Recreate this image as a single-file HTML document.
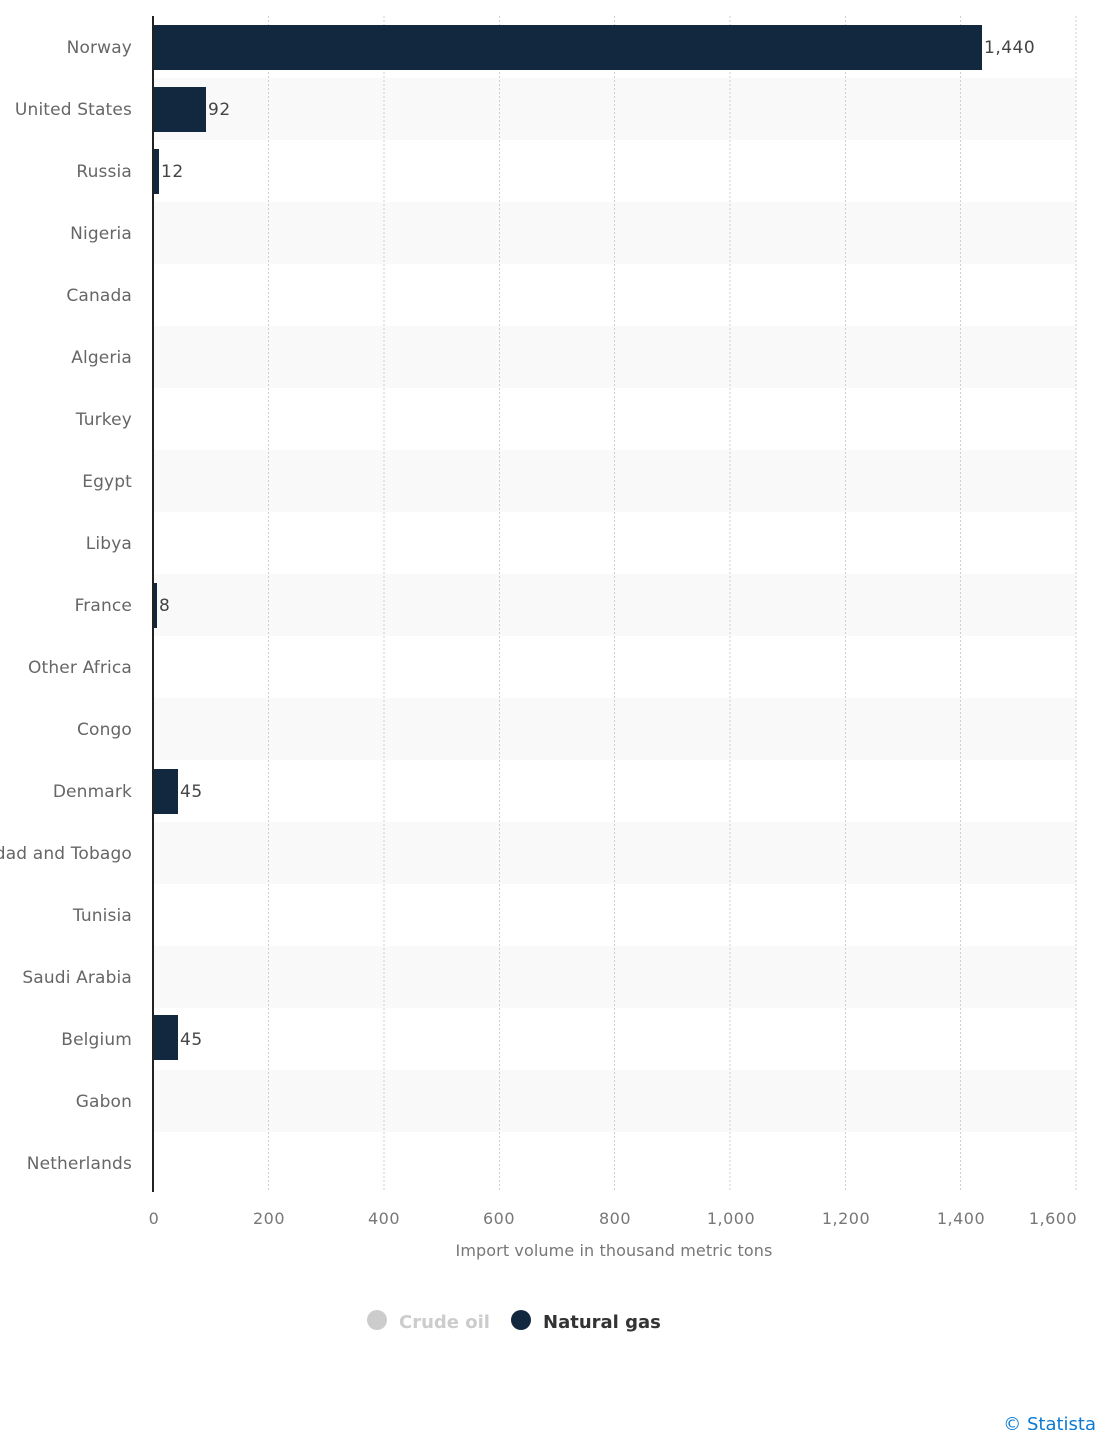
<!DOCTYPE html>
<html><head><meta charset="utf-8"><style>
html,body{margin:0;padding:0;background:#fff;}
svg{display:block;font-family:"DejaVu Sans","Liberation Sans",sans-serif;}
</style></head><body>
<svg width="1100" height="1430" viewBox="0 0 1100 1430" xmlns="http://www.w3.org/2000/svg">
<g fill="#f9f9f9">
<rect x="154" y="78" width="922" height="62"/>
<rect x="154" y="202" width="922" height="62"/>
<rect x="154" y="326" width="922" height="62"/>
<rect x="154" y="450" width="922" height="62"/>
<rect x="154" y="574" width="922" height="62"/>
<rect x="154" y="698" width="922" height="62"/>
<rect x="154" y="822" width="922" height="62"/>
<rect x="154" y="946" width="922" height="62"/>
<rect x="154" y="1070" width="922" height="62"/>
</g>
<g stroke="#cfcfcf" stroke-width="1" stroke-dasharray="2,2">
<line x1="268.5" y1="16" x2="268.5" y2="1192"/>
<line x1="384" y1="16" x2="384" y2="1192"/>
<line x1="499.5" y1="16" x2="499.5" y2="1192"/>
<line x1="614.5" y1="16" x2="614.5" y2="1192"/>
<line x1="730" y1="16" x2="730" y2="1192"/>
<line x1="845.5" y1="16" x2="845.5" y2="1192"/>
<line x1="960.5" y1="16" x2="960.5" y2="1192"/>
<line x1="1076" y1="16" x2="1076" y2="1192"/>
</g>
<g fill="#12283f">
<rect x="153" y="25" width="829" height="45"/>
<rect x="153" y="87" width="53" height="45"/>
<rect x="153" y="149" width="6" height="45"/>
<rect x="153" y="583" width="4" height="45"/>
<rect x="153" y="769" width="25" height="45"/>
<rect x="153" y="1015" width="25" height="45"/>
</g>
<line x1="153" y1="16" x2="153" y2="1192" stroke="#222" stroke-width="2"/>
<g font-size="17" fill="#444" letter-spacing="0.5">
<text x="984" y="53">1,440</text>
<text x="208" y="115">92</text>
<text x="161" y="177">12</text>
<text x="159" y="611">8</text>
<text x="180" y="797">45</text>
<text x="180" y="1045">45</text>
</g>
<g font-size="17" fill="#666" text-anchor="end" letter-spacing="0.15">
<text x="132" y="53">Norway</text>
<text x="132" y="115">United States</text>
<text x="132" y="177">Russia</text>
<text x="132" y="239">Nigeria</text>
<text x="132" y="301">Canada</text>
<text x="132" y="363">Algeria</text>
<text x="132" y="425">Turkey</text>
<text x="132" y="487">Egypt</text>
<text x="132" y="549">Libya</text>
<text x="132" y="611">France</text>
<text x="132" y="673">Other Africa</text>
<text x="132" y="735">Congo</text>
<text x="132" y="797">Denmark</text>
<text x="132" y="859">Trinidad and Tobago</text>
<text x="132" y="921">Tunisia</text>
<text x="132" y="983">Saudi Arabia</text>
<text x="132" y="1045">Belgium</text>
<text x="132" y="1107">Gabon</text>
<text x="132" y="1169">Netherlands</text>
</g>
<g font-size="16" fill="#777" text-anchor="middle" letter-spacing="0.5">
<text x="154" y="1224">0</text>
<text x="269" y="1224">200</text>
<text x="384" y="1224">400</text>
<text x="499" y="1224">600</text>
<text x="615" y="1224">800</text>
<text x="731" y="1224">1,000</text>
<text x="846" y="1224">1,200</text>
<text x="961" y="1224">1,400</text>
<text x="1053" y="1224">1,600</text>
</g>
<text x="614" y="1256" font-size="16" fill="#777" text-anchor="middle" letter-spacing="0.1">Import volume in thousand metric tons</text>
<circle cx="377" cy="1320" r="10" fill="#ccc"/>
<text x="399" y="1328" font-size="18" font-weight="bold" fill="#ccc">Crude oil</text>
<circle cx="521" cy="1320" r="10" fill="#12283f"/>
<text x="543" y="1328" font-size="18" font-weight="bold" fill="#333">Natural gas</text>
<text x="1096" y="1430" font-size="18" fill="#0a7ad4" text-anchor="end">© Statista</text>
</svg>
</body></html>
